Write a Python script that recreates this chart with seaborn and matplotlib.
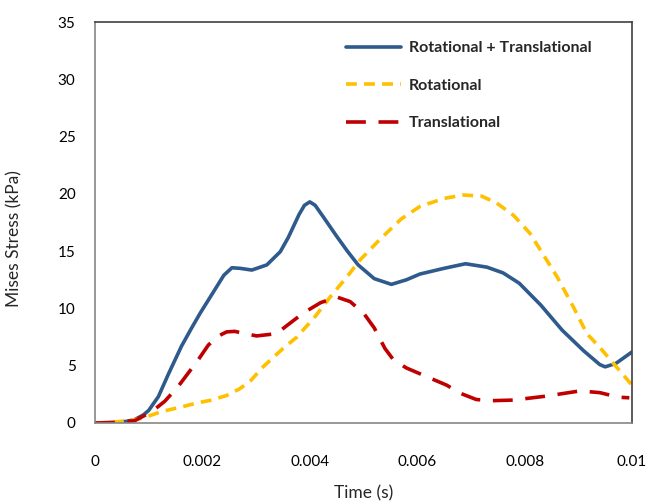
import matplotlib
matplotlib.use("Agg")
import matplotlib.pyplot as plt
import seaborn as sns
import pandas as pd

# ---- data ----
t_both = [0, 0.0004, 0.0006, 0.00074, 0.0009, 0.001, 0.00118, 0.00137, 0.00161, 0.0018,
          0.00196, 0.0022, 0.0024, 0.00255, 0.0027, 0.00292, 0.0032, 0.00345, 0.0036, 0.0038,
          0.0039, 0.0040, 0.0041, 0.00425, 0.0045, 0.0047, 0.0049, 0.0052, 0.00552, 0.0058,
          0.00605, 0.0065, 0.0069, 0.0073, 0.0076, 0.0079, 0.0083, 0.0087, 0.0091, 0.0094,
          0.0095, 0.0097, 0.01]
v_both = [0, 0.05, 0.15, 0.3, 0.7, 1.1, 2.3, 4.3, 6.7, 8.3,
          9.6, 11.4, 12.9, 13.55, 13.5, 13.35, 13.8, 14.95, 16.2, 18.2,
          19.0, 19.3, 19.0, 18.0, 16.3, 15.0, 13.8, 12.6, 12.1, 12.5,
          13.0, 13.5, 13.9, 13.6, 13.1, 12.2, 10.3, 8.1, 6.3, 5.1,
          4.9, 5.2, 6.2]

t_rot = [0, 0.0003, 0.0006, 0.00087, 0.00124, 0.00161, 0.0019, 0.00217, 0.00245, 0.0027,
         0.0029, 0.00313, 0.0035, 0.00376, 0.0041, 0.00438, 0.0047, 0.00493, 0.0053, 0.0057,
         0.00605, 0.0065, 0.00686, 0.0072, 0.00748, 0.0078, 0.0081, 0.0086, 0.0089, 0.00916,
         0.0094, 0.0096, 0.0098, 0.01]
v_rot = [0, 0.05, 0.2, 0.4, 1.0, 1.4, 1.75, 2.0, 2.4, 3.0,
         3.7, 4.9, 6.5, 7.5, 9.3, 11.0, 12.8, 14.2, 16.0, 17.8,
         18.9, 19.6, 19.9, 19.8, 19.2, 18.1, 16.55, 12.8, 10.2, 7.8,
         6.6, 5.5, 4.4, 3.3]

t_tra = [0, 0.0004, 0.00074, 0.00106, 0.0013, 0.00155, 0.00192, 0.00211, 0.0023, 0.00245,
         0.0026, 0.0028, 0.00301, 0.00338, 0.0036, 0.00388, 0.0042, 0.0045, 0.00475, 0.005,
         0.0052, 0.0054, 0.00556, 0.0058, 0.00605, 0.0063, 0.00655, 0.0068, 0.0071, 0.0074,
         0.00779, 0.00841, 0.00903, 0.0094, 0.00975, 0.00995]
v_tra = [0, 0.05, 0.2, 1.0, 1.9, 3.2, 5.5, 6.8, 7.6, 7.95,
         8.0, 7.8, 7.6, 7.8, 8.6, 9.6, 10.5, 11.0, 10.6, 9.6,
         8.3, 6.5, 5.5, 4.8, 4.3, 3.8, 3.3, 2.6, 2.05, 1.95,
         2.0, 2.35, 2.8, 2.65, 2.25, 2.2]

series_names = ["Rotational + Translational", "Rotational", "Translational"]
x_ticks = [0, 0.002, 0.004, 0.006, 0.008, 0.01]
x_tick_labels = ["0", "0.002", "0.004", "0.006", "0.008", "0.01"]
y_ticks = [0, 5, 10, 15, 20, 25, 30, 35]

df = pd.concat([
    pd.DataFrame({"t": t_both, "v": v_both, "series": series_names[0]}),
    pd.DataFrame({"t": t_rot, "v": v_rot, "series": series_names[1]}),
    pd.DataFrame({"t": t_tra, "v": v_tra, "series": series_names[2]}),
], ignore_index=True)

sns.set_style("white")
plt.rcParams["font.family"] = ["Lato", "DejaVu Sans"]
plt.rcParams["lines.solid_joinstyle"] = "round"
plt.rcParams["lines.dash_joinstyle"] = "round"

fig = plt.figure(figsize=(6.51, 5.04), dpi=100)
ax = fig.add_axes([95/651, 1-423/504, (632-95)/651, (423-22)/504])

palette = {series_names[0]: "#2E5A8C", series_names[1]: "#FFC000", series_names[2]: "#C00000"}
dashes = {series_names[0]: "", series_names[1]: (3.0, 2.0), series_names[2]: (5.5, 3.5)}

sns.lineplot(data=df, x="t", y="v", hue="series", style="series", palette=palette,
             dashes=dashes, sort=False, estimator=None, linewidth=2.6, ax=ax,
             hue_order=series_names, style_order=series_names)

ax.set_xlim(0, 0.01)
ax.set_ylim(0, 35)
ax.set_xticks(x_ticks)
ax.set_xticklabels(x_tick_labels)
ax.set_yticks(y_ticks)
ax.tick_params(axis="both", labelsize=11, colors="#000000", direction="out",
               length=6, width=1, color="#868686")
ax.tick_params(axis="x", pad=17)
ax.tick_params(axis="y", pad=8)

ax.set_xlabel("Time (s)", fontsize=12.5)
ax.set_ylabel("Mises Stress (kPa)", fontsize=12.5)
ax.xaxis.set_label_coords(0.5, -0.155)
ax.yaxis.set_label_coords(-0.135, 0.46)

for s in ["left", "bottom"]:
    ax.spines[s].set_color("#868686")
    ax.spines[s].set_linewidth(1.2)
for s in ["top", "right"]:
    ax.spines[s].set_color("#404040")
    ax.spines[s].set_linewidth(1.2)

leg = ax.legend(loc="upper left", bbox_to_anchor=(0.456, 0.968), frameon=False,
                handlelength=3.45, handletextpad=0.45, labelspacing=1.46,
                prop={"weight": "bold", "size": 11.5}, borderaxespad=0)
for line in leg.get_lines():
    line.set_linewidth(2.6)

fig.savefig("out.png", dpi=100)
